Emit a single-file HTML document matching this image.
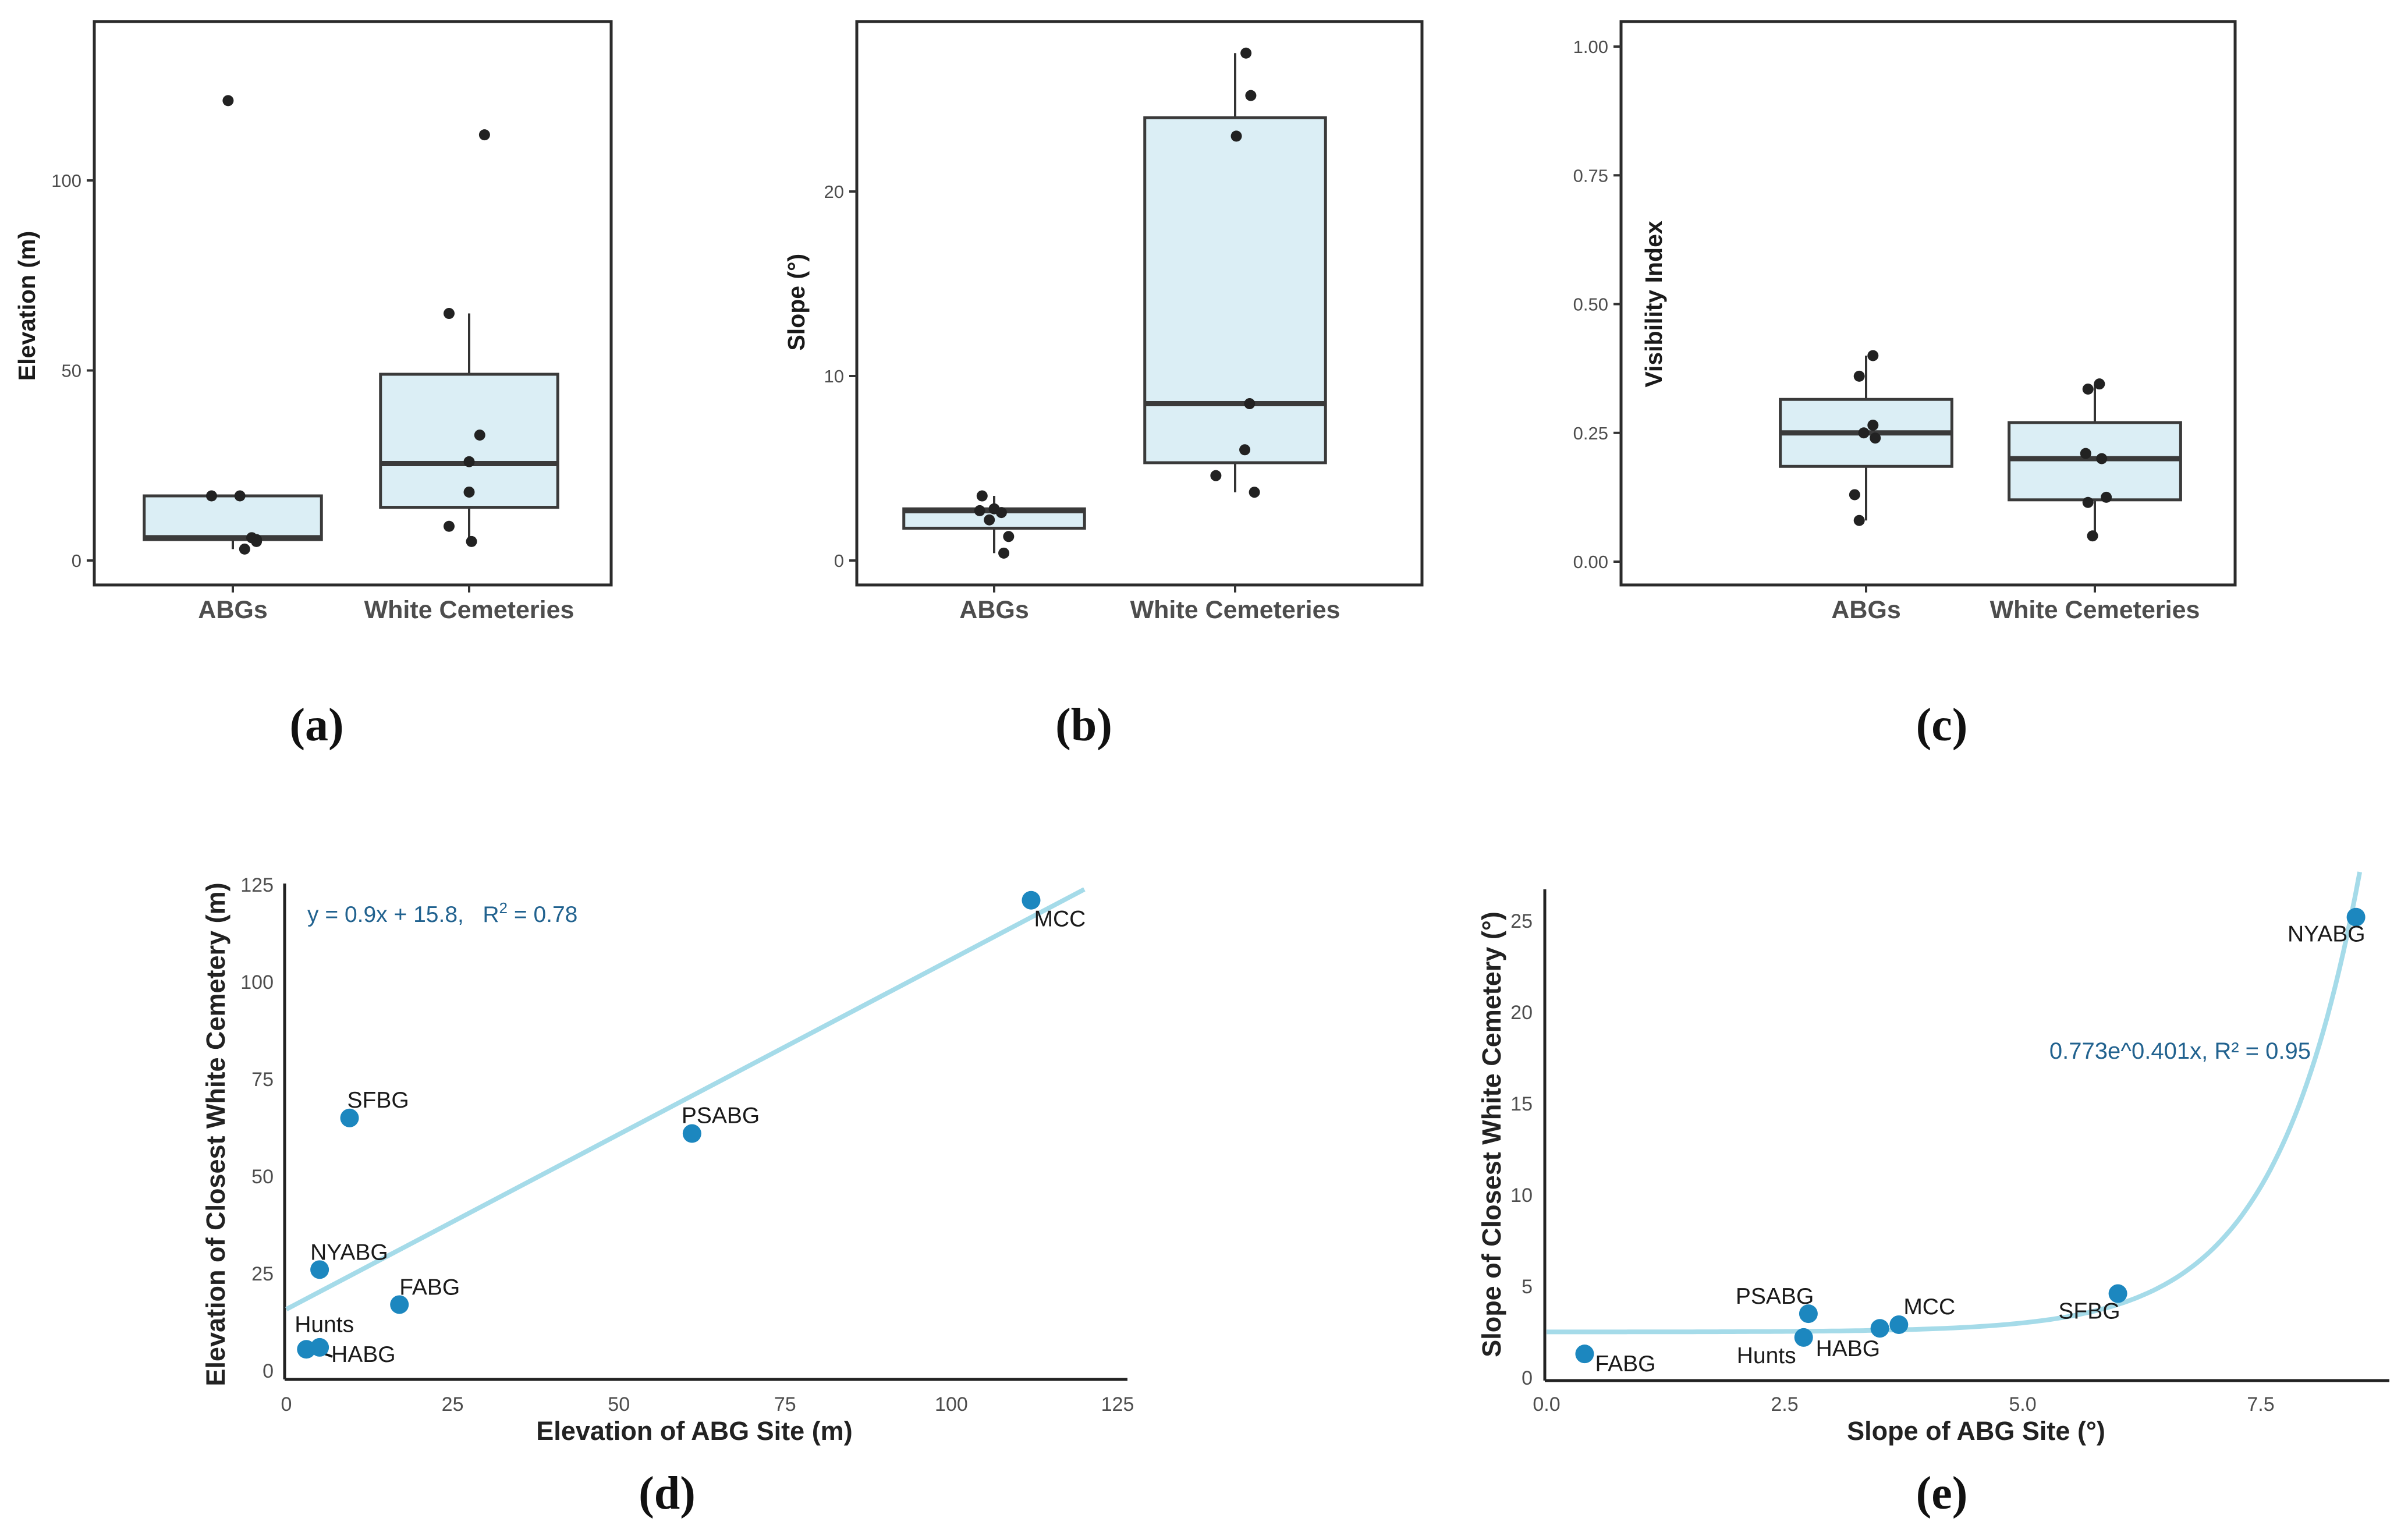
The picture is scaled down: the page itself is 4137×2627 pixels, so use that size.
<!DOCTYPE html>
<html><head><meta charset="utf-8">
<style>
html,body{margin:0;padding:0;background:#fff;}
svg{display:block;}
text{font-family:"Liberation Sans",Arial,sans-serif;}
text.serif{font-family:"Liberation Serif","DejaVu Serif",serif;}
</style></head>
<body>
<svg id="fig" width="4137" height="2627" viewBox="0 0 4137 2627" xmlns="http://www.w3.org/2000/svg"></svg>
<script>
// ===== Panel (a) Elevation =====
const catLabels = ["ABGs", "White Cemeteries"];
const elevTicks = [0, 50, 100];
const elevBoxABG = [3, 5.5, 6, 17, 17];        // min, q1, median, q3, max
const elevBoxWC = [5, 14, 25.5, 49, 65];
const elevPtsABG = [121, 17, 17, 6, 5.5, 5, 3];
const elevJitABG = [-0.02, -0.09, 0.03, 0.08, 0.1, 0.1, 0.05];
const elevPtsWC = [112, 65, 33, 26, 18, 9, 5];
const elevJitWC = [0.065, -0.085, 0.045, 0, 0, -0.085, 0.01];
// ===== Panel (b) Slope =====
const slopeTicks = [0, 10, 20];
const slopeBoxABG = [0.4, 1.75, 2.7, 2.8, 3.5];
const slopeBoxWC = [3.7, 5.3, 8.5, 24, 27.5];
const slopePtsABG = [3.5, 2.8, 2.7, 2.6, 2.2, 1.3, 0.4];
const slopeJitABG = [-0.05, 0.0, -0.06, 0.03, -0.02, 0.06, 0.04];
const slopePtsWC = [27.5, 25.2, 23, 8.5, 6, 4.6, 3.7];
const slopeJitWC = [0.045, 0.065, 0.005, 0.06, 0.04, -0.08, 0.08];
// ===== Panel (c) Visibility =====
const visTicks = [0, 0.25, 0.5, 0.75, 1.0];
const visTickLabels = ["0.00", "0.25", "0.50", "0.75", "1.00"];
const visBoxABG = [0.08, 0.185, 0.25, 0.315, 0.40];
const visBoxWC = [0.05, 0.12, 0.20, 0.27, 0.345];
const visPtsABG = [0.40, 0.36, 0.265, 0.25, 0.24, 0.13, 0.08];
const visJitABG = [0.03, -0.03, 0.03, -0.01, 0.04, -0.05, -0.03];
const visPtsWC = [0.345, 0.335, 0.21, 0.20, 0.125, 0.115, 0.05];
const visJitWC = [0.02, -0.03, -0.04, 0.03, 0.05, -0.03, -0.01];
// ===== Panel (d) Elevation scatter =====
const dNames = ["MCC", "PSABG", "SFBG", "NYABG", "FABG", "Hunts", "HABG"];
const dX = [112, 61, 9.5, 5, 17, 3, 5];
const dY = [121, 61, 65, 26, 17, 5.5, 6];
const dTicks = [0, 25, 50, 75, 100, 125];
const dSlope = 0.9, dIntercept = 15.8;
// ===== Panel (e) Slope scatter =====
const eNames = ["NYABG", "SFBG", "MCC", "HABG", "PSABG", "Hunts", "FABG"];
const eX = [8.5, 6.0, 3.7, 3.5, 2.75, 2.7, 0.4];
const eY = [25.2, 4.6, 2.9, 2.7, 3.5, 2.2, 1.3];
const eXTicks = [0, 2.5, 5, 7.5];
const eXTickLabels = ["0.0", "2.5", "5.0", "7.5"];
const eYTicks = [0, 5, 10, 15, 20, 25];
const eFit = [2.5, 0.00194, 1.109]; // base, coef, rate of plotted curve

const NS = "http://www.w3.org/2000/svg";
const svg = document.getElementById("fig");
function mk(tag, attrs, parent) {
  const e = document.createElementNS(NS, tag);
  for (const k in attrs) e.setAttribute(k, attrs[k]);
  (parent || svg).appendChild(e);
  return e;
}
function txt(s, attrs, parent) { const t = mk("text", attrs, parent); t.textContent = s; return t; }

// ---------- Box panels ----------
function boxPanel(cfg) {
  const g = mk("g", {});
  
  
  const yS = v => cfg.y0 - v * cfg.k;
  const xS = c => cfg.cx[0] + c * (cfg.cx[1] - cfg.cx[0]);
  const frame = mk("rect", {x: cfg.l, y: 37, width: cfg.r - cfg.l, height: 1005 - 37, fill: "none", stroke: "#2b2b2b", "stroke-width": 5}, g);
  
  
  cfg.ticks.forEach((t, i) => {
    const y = yS(t);
    const tk = mk("line", {x1: cfg.l - 13, x2: cfg.l, y1: y, y2: y, stroke: "#333", "stroke-width": 4}, g);
    
    
    const tl = txt(cfg.tickLabels ? cfg.tickLabels[i] : String(t), {x: cfg.l - 22, y: y + 11, "text-anchor": "end", "font-size": 31, fill: "#4d4d4d"}, g);
    
    
  });
  catLabels.forEach((c, i) => {
    const x = xS(i);
    const tk = mk("line", {x1: x, x2: x, y1: 1005, y2: 1018, stroke: "#333", "stroke-width": 4}, g);
    
    
    const tl = txt(c, {x: x, y: 1062, "text-anchor": "middle", "font-size": 43, "font-weight": "bold", fill: "#4d4d4d"}, g);
    
    
  });
  const yt = txt(cfg.title, {x: 0, y: 0, "text-anchor": "middle", "font-size": 41, "font-weight": "bold", fill: "#1a1a1a", transform: `translate(${cfg.titleX},${yS(cfg.titleMid)}) rotate(-90)`}, g);
  
  
  const hw = 0.75 * (cfg.cx[1] - cfg.cx[0]) / 2;
  [cfg.boxes[0], cfg.boxes[1]].forEach((b, i) => {
    const x = xS(i);
    const bg = mk("g", {}, g);
    
    
    const w1 = mk("line", {x1: x, x2: x, y1: yS(b[3]), y2: yS(b[4]), stroke: "#333", "stroke-width": 4}, bg);
    
    
    const w2 = mk("line", {x1: x, x2: x, y1: yS(b[1]), y2: yS(b[0]), stroke: "#333", "stroke-width": 4}, bg);
    
    
    const r = mk("rect", {x: x - hw, y: yS(b[3]), width: 2 * hw, height: Math.max(1, yS(b[1]) - yS(b[3])), fill: "#dbeef5", stroke: "#3a3a3a", "stroke-width": 5}, bg);
    
    
    const m = mk("line", {x1: x - hw, x2: x + hw, y1: yS(b[2]), y2: yS(b[2]), stroke: "#3a3a3a", "stroke-width": 9}, bg);
    
    
    const pts = cfg.pts[i], jit = cfg.jit[i];
    pts.forEach((v, j) => {
      const c = mk("circle", {cx: xS(i + jit[j]), cy: yS(v), r: 9.5, fill: "#222"}, bg);
      
      
    });
  });
}
boxPanel({name: "panel-a-elevation", l: 162, r: 1050, cx: [400, 806], y0: 963, k: 6.53, ticks: elevTicks,
  boxes: [elevBoxABG, elevBoxWC], pts: [elevPtsABG, elevPtsWC], jit: [elevJitABG, elevJitWC],
  title: "Elevation (m)", titleX: 60, titleMid: 67});
boxPanel({name: "panel-b-slope", l: 1472, r: 2443, cx: [1708, 2122], y0: 963, k: 31.7, ticks: slopeTicks,
  boxes: [slopeBoxABG, slopeBoxWC], pts: [slopePtsABG, slopePtsWC], jit: [slopeJitABG, slopeJitWC],
  title: "Slope (°)", titleX: 1382, titleMid: 14});
boxPanel({name: "panel-c-visibility", l: 2785, r: 3840, cx: [3206, 3599], y0: 965, k: 885, ticks: visTicks, tickLabels: visTickLabels,
  boxes: [visBoxABG, visBoxWC], pts: [visPtsABG, visPtsWC], jit: [visJitABG, visJitWC],
  title: "Visibility Index", titleX: 2855, titleMid: 0.5});

// ---------- Panel labels ----------
[["(a)", 544, 1272], ["(b)", 1862, 1272], ["(c)", 3336, 1272], ["(d)", 1146, 2592], ["(e)", 3336, 2592]].forEach(p => {
  const t = txt(p[0], {x: p[1], y: p[2], "text-anchor": "middle", "font-size": 80, "font-weight": "bold", fill: "#111", "class": "serif"});
  
  
});

// ---------- Scatter panels ----------
function axesScatter(g, cfg) {
  const ax = mk("line", {x1: cfg.ax0, x2: cfg.axEnd, y1: cfg.axY, y2: cfg.axY, stroke: "#222", "stroke-width": 5}, g);
  
  
  const ay = mk("line", {x1: cfg.ax0, x2: cfg.ax0, y1: cfg.axTop, y2: cfg.axY, stroke: "#222", "stroke-width": 5}, g);
  
  
}
// Panel d
{
  const g = mk("g", {});
  
  
  const xS = v => 492 + v * (1920 - 492) / 125;
  const yS = v => 2355 - v * 167 / 25;
  axesScatter(g, {ax0: 489, axEnd: 1937, axY: 2370, axTop: 1518});
  dTicks.forEach(t => {
    const a = txt(String(t), {x: xS(t), y: 2424, "text-anchor": "middle", "font-size": 34, fill: "#4d4d4d"}, g);
    
    
    const b = txt(String(t), {x: 470, y: yS(t) + 12, "text-anchor": "end", "font-size": 34, fill: "#4d4d4d"}, g);
    
    
  });
  const xt = txt("Elevation of ABG Site (m)", {x: 1193, y: 2474, "text-anchor": "middle", "font-size": 45, "font-weight": "bold", fill: "#222"}, g);
  
  
  const yt = txt("Elevation of Closest White Cemetery (m)", {x: 0, y: 0, "text-anchor": "middle", "font-size": 45, "font-weight": "bold", fill: "#222", transform: "translate(386,1949) rotate(-90)"}, g);
  
  
  const fl = mk("line", {x1: xS(0), y1: yS(dIntercept), x2: xS(120), y2: yS(dSlope * 120 + dIntercept), stroke: "#a5dbe9", "stroke-width": 8}, g);
  
  
  const eq = txt("", {x: 528, y: 1584, "font-size": 39, fill: "#21628f"}, g);
  
  
  eq.innerHTML = 'y = 0.9x + 15.8,&#160;&#160;&#160;R<tspan dy="-15" font-size="26">2</tspan><tspan dy="15"> = 0.78</tspan>';
  const offs = {MCC: [5, 45, "start"], PSABG: [-18, -18, "start"], SFBG: [-4, -18, "start"], NYABG: [-16, -17, "start"], FABG: [0, -17, "start"], Hunts: [-20, -30, "start"], HABG: [20, 25, "start"]};
  const ld = mk("line", {x1: xS(5) - 12, y1: yS(6) + 4, x2: xS(5) + 22, y2: yS(6) + 16, stroke: "#111", "stroke-width": 4}, g);
  
  
  dNames.forEach((n, i) => {
    const cx = xS(dX[i]), cy = yS(dY[i]);
    const c = mk("circle", {cx: cx, cy: cy, r: 16, fill: "#1c87bf"}, g);
    
    
    const o = offs[n];
    const t = txt(n, {x: cx + o[0], y: cy + o[1], "font-size": 39, fill: "#1a1a1a", "text-anchor": o[2]}, g);
    
    
  });
}
// Panel e
{
  const g = mk("g", {});
  
  
  const xS = v => 2657 + v * 409 / 2.5;
  const yS = v => 2367 - v * 157 / 5;
  axesScatter(g, {ax0: 2654, axEnd: 4105, axY: 2372, axTop: 1528});
  eXTicks.forEach((t, i) => {
    const a = txt(eXTickLabels[i], {x: xS(t), y: 2424, "text-anchor": "middle", "font-size": 34, fill: "#4d4d4d"}, g);
    
    
  });
  eYTicks.forEach(t => {
    const b = txt(String(t), {x: 2633, y: yS(t) + 12, "text-anchor": "end", "font-size": 34, fill: "#4d4d4d"}, g);
    
    
  });
  const xt = txt("Slope of ABG Site (°)", {x: 3395, y: 2474, "text-anchor": "middle", "font-size": 45, "font-weight": "bold", fill: "#222"}, g);
  
  
  const yt = txt("Slope of Closest White Cemetery (°)", {x: 0, y: 0, "text-anchor": "middle", "font-size": 45, "font-weight": "bold", fill: "#222", transform: "translate(2578,1949) rotate(-90)"}, g);
  
  
  let d = "";
  for (let i = 0; i <= 200; i++) {
    const x = 8.54 * i / 200;
    const y = eFit[0] + eFit[1] * Math.exp(eFit[2] * x);
    d += (i ? "L" : "M") + xS(x).toFixed(1) + "," + yS(y).toFixed(1);
  }
  const fc = mk("path", {d: d, fill: "none", stroke: "#a5dbe9", "stroke-width": 8}, g);
  
  
  const eq = txt("0.773e^0.401x,  R² = 0.95", {x: 3970, y: 1819, "text-anchor": "end", "font-size": 40, fill: "#21628f"}, g);
  
  
  const offs = {NYABG: [16, 42, "end"], SFBG: [4, 43, "end"], MCC: [8, -18, "start"], HABG: [-110, 48, "start"], PSABG: [-125, -17, "start"], Hunts: [-115, 44, "start"], FABG: [18, 30, "start"]};
  eNames.forEach((n, i) => {
    const cx = xS(eX[i]), cy = yS(eY[i]);
    const c = mk("circle", {cx: cx, cy: cy, r: 16, fill: "#1c87bf"}, g);
    
    
    const o = offs[n];
    const t = txt(n, {x: cx + o[0], y: cy + o[1], "font-size": 39, fill: "#1a1a1a", "text-anchor": o[2]}, g);
    
    
  });
}
</script>
</body></html>
